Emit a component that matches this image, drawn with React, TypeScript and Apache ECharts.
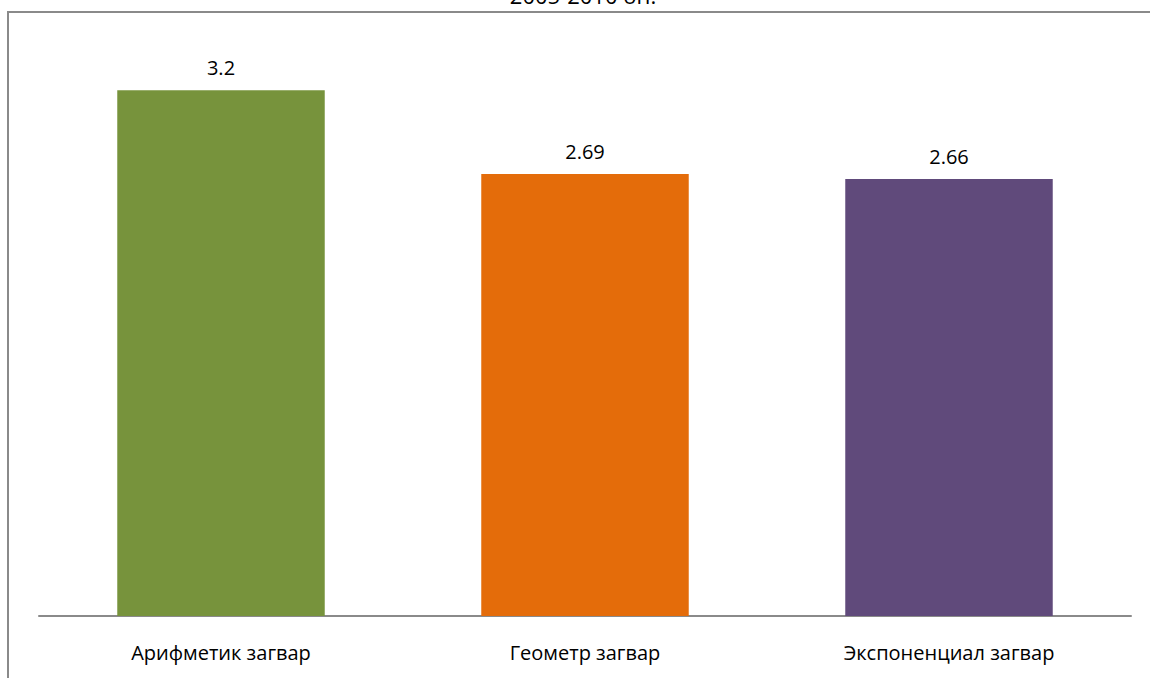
import React, { useEffect, useRef } from "react";
import * as echarts from "echarts";

const categories = ["Арифметик загвар", "Геометр загвар", "Экспоненциал загвар"];
const values = [3.2, 2.69, 2.66];
const colors = ["#77933C", "#E46C0A", "#604A7B"];
const titleText = "2005-2010 он.";

export default function App() {
  const ref = useRef<HTMLDivElement>(null);
  useEffect(() => {
    if (!ref.current) return;
    const chart = echarts.init(ref.current, undefined, { renderer: "svg" });
    const font = "'Open Sans', 'Noto Sans', sans-serif";
    chart.setOption({
      animation: false,
      backgroundColor: "#ffffff",
      textStyle: { fontFamily: font },
      graphic: [
        {
          type: "rect",
          shape: { x: 8, y: 12, width: 1300, height: 800 },
          style: { fill: "none", stroke: "#8a8a8a", lineWidth: 2 },
          silent: true,
          z: 0,
        },
        {
          type: "text",
          x: 583,
          y: 6,
          style: {
            text: titleText,
            fontSize: 22,
            fontFamily: font,
            fill: "#000",
            align: "center",
            verticalAlign: "bottom",
          },
        },
      ],
      grid: { left: 39, right: 19, top: 41, bottom: 62, containLabel: false },
      xAxis: {
        type: "category",
        data: categories,
        axisTick: { show: false },
        axisLine: { lineStyle: { color: "#8a8a8a", width: 2 } },
        axisLabel: { color: "#000", fontSize: 20, margin: 26, fontFamily: font },
      },
      yAxis: {
        type: "value",
        min: 0,
        max: 3.5,
        show: false,
        splitLine: { show: false },
      },
      series: [
        {
          type: "bar",
          barWidth: "57%",
          data: values.map((v, i) => ({ value: v, itemStyle: { color: colors[i] } })),
          label: {
            show: true,
            position: "top",
            distance: 13,
            color: "#000",
            fontSize: 20,
            fontFamily: font,
          },
        },
      ],
    });
    return () => chart.dispose();
  }, []);
  return (
    <div
      ref={ref}
      style={{ position: "fixed", left: 0, top: 0, width: 1150, height: 678 }}
    />
  );
}
